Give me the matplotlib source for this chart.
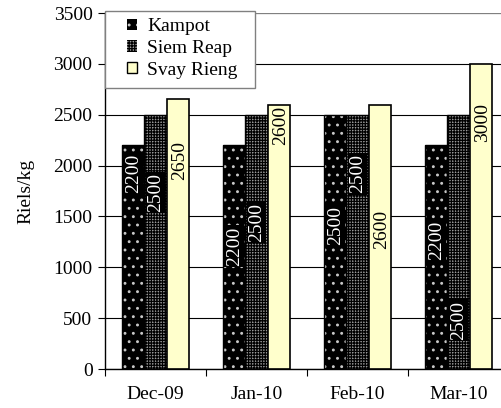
import numpy as np
import matplotlib
matplotlib.use('Agg')
from matplotlib import pyplot as plt
from matplotlib import patches as mpatches

months = ['Dec-09', 'Jan-10', 'Feb-10', 'Mar-10']
kampot = [2200, 2200, 2500, 2200]
siem_reap = [2500, 2500, 2500, 2500]
svay_rieng = [2650, 2600, 2600, 3000]
# where the data labels sit inside each bar (data units)
kampot_lbl_y = [1920, 1210, 1410, 1260]
siem_lbl_y = [1735, 1440, 1920, 480]
svay_lbl_y = [2050, 2390, 1370, 2420]

plt.rcParams['font.family'] = ['Liberation Serif', 'DejaVu Serif']
plt.rcParams['hatch.linewidth'] = 0.9

fig = plt.figure(figsize=(5.01, 4.08), dpi=100)
ax = fig.add_axes([105/501, 1 - 369/408, 404/501, (369 - 13)/408])

x = np.arange(len(months))
w = 0.221
fs = 14

series = [
    (kampot, kampot_lbl_y, 'Kampot', '#000000', '..', '#c8c8c8'),
    (siem_reap, siem_lbl_y, 'Siem Reap', '#9a9a9a', '++++++', '#000000'),
    (svay_rieng, svay_lbl_y, 'Svay Rieng', '#ffffcc', None, None),
]

handles = []
for k, (vals, lbl_y, name, fc, hatch, hc) in enumerate(series):
    pos = x + (k - 1) * w
    if hatch:
        ax.bar(pos, vals, w, color=fc, hatch=hatch, edgecolor=hc, linewidth=0, zorder=2)
        ax.bar(pos, vals, w, fill=False, edgecolor='black', linewidth=1, zorder=3)
        for p, v, ly in zip(pos, vals, lbl_y):
            ax.text(p, ly, str(v), rotation=90, ha='center', va='center', color='white',
                    fontsize=fs, zorder=5,
                    bbox=dict(facecolor='black', edgecolor='none', pad=1.0))
        handles.append(mpatches.Patch(facecolor=fc, hatch=hatch, edgecolor=hc, linewidth=0, label=name))
    else:
        ax.bar(pos, vals, w, color=fc, edgecolor='black', linewidth=1.2, zorder=3)
        for p, v, ly in zip(pos, vals, lbl_y):
            ax.text(p + 0.02, ly, str(v), rotation=90, ha='center', va='center', color='black',
                    fontsize=fs, zorder=5)
        handles.append(mpatches.Patch(facecolor=fc, edgecolor='black', linewidth=1, label=name))

ax.set_ylim(0, 3500)
ax.set_yticks(np.arange(0, 3501, 500))
ax.yaxis.grid(True, color='black', linewidth=0.8, zorder=0)
ax.set_axisbelow(True)
ax.set_xlim(-0.5, 3.5)
ax.set_xticks(np.arange(-0.5, 4, 1))
ax.set_xticklabels([])
ax.set_xticks(x, minor=True)
ax.set_xticklabels(months, minor=True, fontsize=fs)
ax.tick_params(axis='x', which='minor', length=0, pad=12)
ax.tick_params(axis='x', which='major', length=5, direction='out')
ax.tick_params(axis='y', length=5, direction='out', labelsize=fs, pad=4)
ax.set_ylabel('Riels/kg', fontsize=fs, labelpad=14)

for s in ['top', 'right']:
    ax.spines[s].set_visible(False)
ax.spines['left'].set_linewidth(1)
ax.spines['bottom'].set_linewidth(1)
ax.axhline(3500, color='#808080', linewidth=1.5, zorder=1)

# legend box drawn by hand, legend itself frameless
box = mpatches.Rectangle((105/501, 1 - 88/408), 150/501, 77/408, transform=fig.transFigure,
                         facecolor='white', edgecolor='#808080', linewidth=1, zorder=6)
ax.add_artist(box)
box.set_clip_on(False)
leg = ax.legend(handles=handles, loc='upper left',
                bbox_to_anchor=(127/501, 1 - 18/408), bbox_transform=fig.transFigure,
                fontsize=fs, frameon=False, handlelength=0.5, handleheight=0.5,
                handletextpad=0.55, borderpad=0.0, labelspacing=0.25, borderaxespad=0.0)
leg.set_zorder(7)

plt.savefig('out.png', dpi=100)
